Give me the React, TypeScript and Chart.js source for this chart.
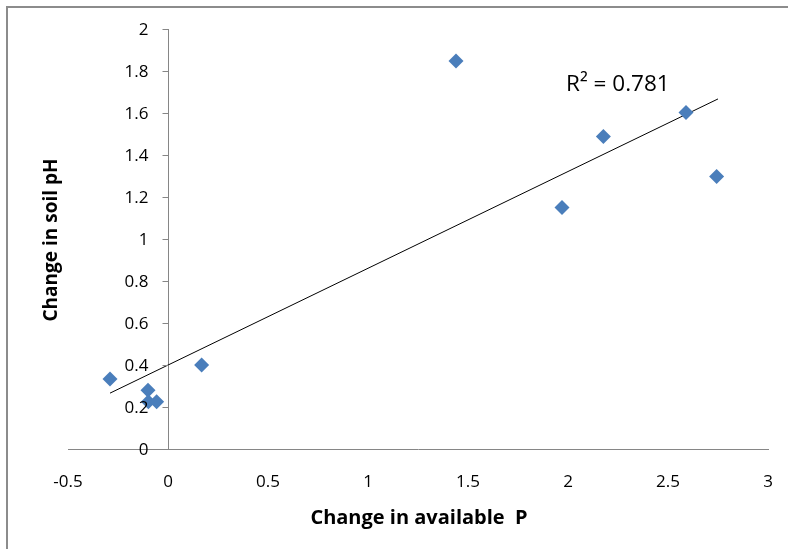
import React, { useEffect, useRef } from "react";
import { Chart, registerables } from "chart.js";

Chart.register(...registerables);

const availablePChange = [-0.29, -0.1, -0.098, -0.057, 0.168, 1.44, 1.97, 2.177, 2.59, 2.743];
const soilPhChange = [0.333, 0.28, 0.225, 0.225, 0.4, 1.848, 1.15, 1.488, 1.602, 1.298];

// Linear trendline end points
const trendX = [-0.29, 2.75];
const trendY = [0.266, 1.667];

const xTickLabels = ["-0.5", "0", "0.5", "1", "1.5", "2", "2.5", "3"];
const yTickValues = [0, 0.2, 0.4, 0.6, 0.8, 1, 1.2, 1.4, 1.6, 1.8, 2];
const yTickLabels = ["0", "0.2", "0.4", "0.6", "0.8", "1", "1.2", "1.4", "1.6", "1.8", "2"];

const xTitle = "Change in available  P";
const yTitle = "Change in soil pH";
const r2Label = "R² = 0.781";

const W = 788;
const H = 549;
const TICK_FONT = "17px 'Open Sans'";

const decorPlugin = {
  id: "decor",
  beforeDraw(chart: any) {
    const ctx = chart.ctx;
    ctx.save();
    ctx.strokeStyle = "#8c8c8c";
    ctx.lineWidth = 2;
    ctx.beginPath();
    ctx.moveTo(7, H);
    ctx.lineTo(7, 7);
    ctx.lineTo(W, 7);
    ctx.stroke();
    ctx.restore();
  },
  afterDraw(chart: any) {
    const ctx = chart.ctx;
    const xs = chart.scales.x;
    const ys = chart.scales.y;
    const axisX = Math.round(xs.getPixelForValue(0)) + 0.5;

    // y-axis tick marks and labels at the x = 0 crossing
    ctx.save();
    ctx.strokeStyle = "#868686";
    ctx.lineWidth = 1;
    ctx.fillStyle = "#000";
    ctx.font = TICK_FONT;
    ctx.textAlign = "right";
    ctx.textBaseline = "middle";
    yTickValues.forEach((v, i) => {
      const py = Math.round(ys.getPixelForValue(v)) + 0.5;
      ctx.beginPath();
      ctx.moveTo(axisX - 6, py);
      ctx.lineTo(axisX, py);
      ctx.stroke();
      ctx.fillText(yTickLabels[i], axisX - 20, py + 1);
    });
    ctx.restore();

    ctx.save();
    ctx.fillStyle = "#000";
    ctx.textAlign = "center";
    ctx.textBaseline = "middle";
    ctx.font = "bold 20px 'Open Sans'";
    ctx.fillText(xTitle, 419, 518);
    ctx.font = "bold 19px 'Open Sans'";
    ctx.translate(52, 240);
    ctx.rotate(-Math.PI / 2);
    ctx.fillText(yTitle, 0, 0);
    ctx.restore();

    ctx.save();
    ctx.fillStyle = "#000";
    ctx.font = "22.5px 'Open Sans'";
    ctx.textAlign = "left";
    ctx.textBaseline = "middle";
    ctx.fillText(r2Label, 566, 85);
    ctx.restore();
  },
};

export default function App() {
  const ref = useRef<HTMLCanvasElement | null>(null);

  useEffect(() => {
    if (!ref.current) return;
    const points = availablePChange.map((x, i) => ({ x, y: soilPhChange[i] }));
    const trend = trendX.map((x, i) => ({ x, y: trendY[i] }));
    const chart = new Chart(ref.current, {
      type: "scatter",
      data: {
        datasets: [
          {
            data: trend,
            showLine: true,
            borderColor: "#000",
            borderWidth: 1,
            pointRadius: 0,
            order: 2,
          },
          {
            data: points,
            pointStyle: "rectRot",
            pointRadius: 7.5,
            pointBackgroundColor: "#4A7EBB",
            pointBorderColor: "#4A7EBB",
            pointBorderWidth: 0,
            order: 1,
          },
        ],
      },
      options: {
        responsive: false,
        animation: false,
        devicePixelRatio: 1,
        layout: { padding: { left: 68, right: 20, top: 29, bottom: 0 } },
        plugins: {
          legend: { display: false },
          tooltip: { enabled: false },
        },
        scales: {
          x: {
            type: "linear",
            position: "bottom",
            min: -0.5,
            max: 3,
            afterFit: (s: any) => {
              s.height = 100;
            },
            ticks: {
              stepSize: 0.5,
              color: "#000",
              font: { family: "'Open Sans'", size: 17 },
              padding: 3,
              maxRotation: 0,
              callback: (_v: any, i: number) => xTickLabels[i],
            },
            grid: {
              display: true,
              drawOnChartArea: false,
              drawTicks: true,
              tickLength: 20,
              tickColor: "rgba(0,0,0,0)",
            },
            border: { display: true, color: "#868686", width: 1 },
          },
          y: {
            type: "linear",
            position: { x: 0 } as any,
            min: 0,
            max: 2,
            ticks: { display: false, stepSize: 0.2 },
            grid: { display: false },
            border: { display: true, color: "#868686", width: 1 },
          },
        },
      },
      plugins: [decorPlugin],
    });
    return () => chart.destroy();
  }, []);

  return (
    <div style={{ position: "absolute", left: 0, top: 0, width: W, height: H, background: "#fff" }}>
      <canvas ref={ref} width={W} height={H} style={{ width: W, height: H, display: "block" }} />
    </div>
  );
}
